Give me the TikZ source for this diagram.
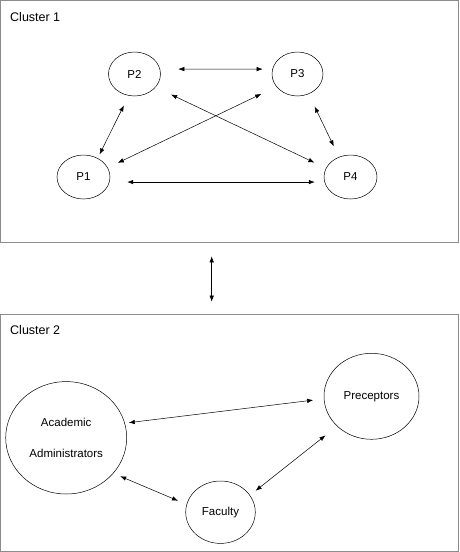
\documentclass[tikz,border=0pt]{standalone}
\usepackage{fontspec}
\setmainfont{Liberation Sans}
\usetikzlibrary{shapes.geometric,arrows.meta}
\tikzset{
  clusterbox/.style={draw=gray!90,line width=0.7pt,rectangle,inner sep=0pt},
  clusterlabel/.style={anchor=west,inner sep=0pt,font=\fontsize{12.5}{15}\selectfont},
  pers/.style={draw,ellipse,inner sep=0pt,line width=0.5pt,align=center,
    font=\fontsize{11.5}{31}\selectfont},
  link/.style={{Latex[length=6pt,width=4.5pt]}-{Latex[length=6pt,width=4.5pt]},line width=0.5pt}
}
\begin{document}
\begin{tikzpicture}[x=1pt,y=-1pt]
\useasboundingbox (0,0) rectangle (459,552);
% cluster 1
\node[clusterbox,minimum width=458pt,minimum height=241.5pt] (clu1) at (229.5,121.25) {};
\node[clusterlabel] (lab1) at (10,17) {Cluster 1};
\node[pers,minimum width=53pt,minimum height=44pt] (P1) at (83.5,177) {P1};
\node[pers,minimum width=52pt,minimum height=44pt] (P2) at (134.5,74) {P2};
\node[pers,minimum width=51pt,minimum height=44pt] (P3) at (297.5,74) {P3};
\node[pers,minimum width=53pt,minimum height=44pt] (P4) at (350.5,177) {P4};
\draw[link,shorten <=18.2pt,shorten >=9.7pt](P2.11)--(P3.169);
\draw[link,shorten <=4.2pt,shorten >=10.9pt](P1.53)--(P2.255);
\draw[link,shorten <=11.1pt,shorten >=16.8pt](P1.21)--(P3.211);
\draw[link,shorten <=17.1pt,shorten >=12.8pt](P2.-32)--(P4.160);
\draw[link,shorten <=13.8pt,shorten >=11.8pt](P3.-61)--(P4.120);
\draw[link,shorten <=17.7pt,shorten >=9.7pt](P1.-11)--(P4.191);
% cluster 2
\node[clusterbox,minimum width=458pt,minimum height=237.5pt] (clu2) at (229.5,432.75) {};
\node[clusterlabel] (lab2) at (10,330.5) {Cluster 2};
\node[pers,minimum width=121pt,minimum height=112.4pt] (AA) at (66.2,437.8) {Academic\\Administrators};
\node[pers,minimum width=95pt,minimum height=86pt] (Pre) at (371.5,396.3) {Preceptors};
\node[pers,minimum width=69.6pt,minimum height=62.4pt] (Fac) at (220.5,512.2) {Faculty};
\draw[link,shorten <=4pt,shorten >=10.8pt](AA.14.5)--(Pre.183);
\draw[link,shorten <=7.4pt,shorten >=9.3pt](AA.-37)--(Fac.167);
\draw[link,shorten <=7.2pt,shorten >=14.8pt](Fac.30)--(Pre.221);
% between the clusters
\draw[link,shorten <=14pt,shorten >=12pt]([xshift=-17.8pt]clu1.south)--([xshift=-17.8pt]clu2.north);
\end{tikzpicture}
\end{document}
